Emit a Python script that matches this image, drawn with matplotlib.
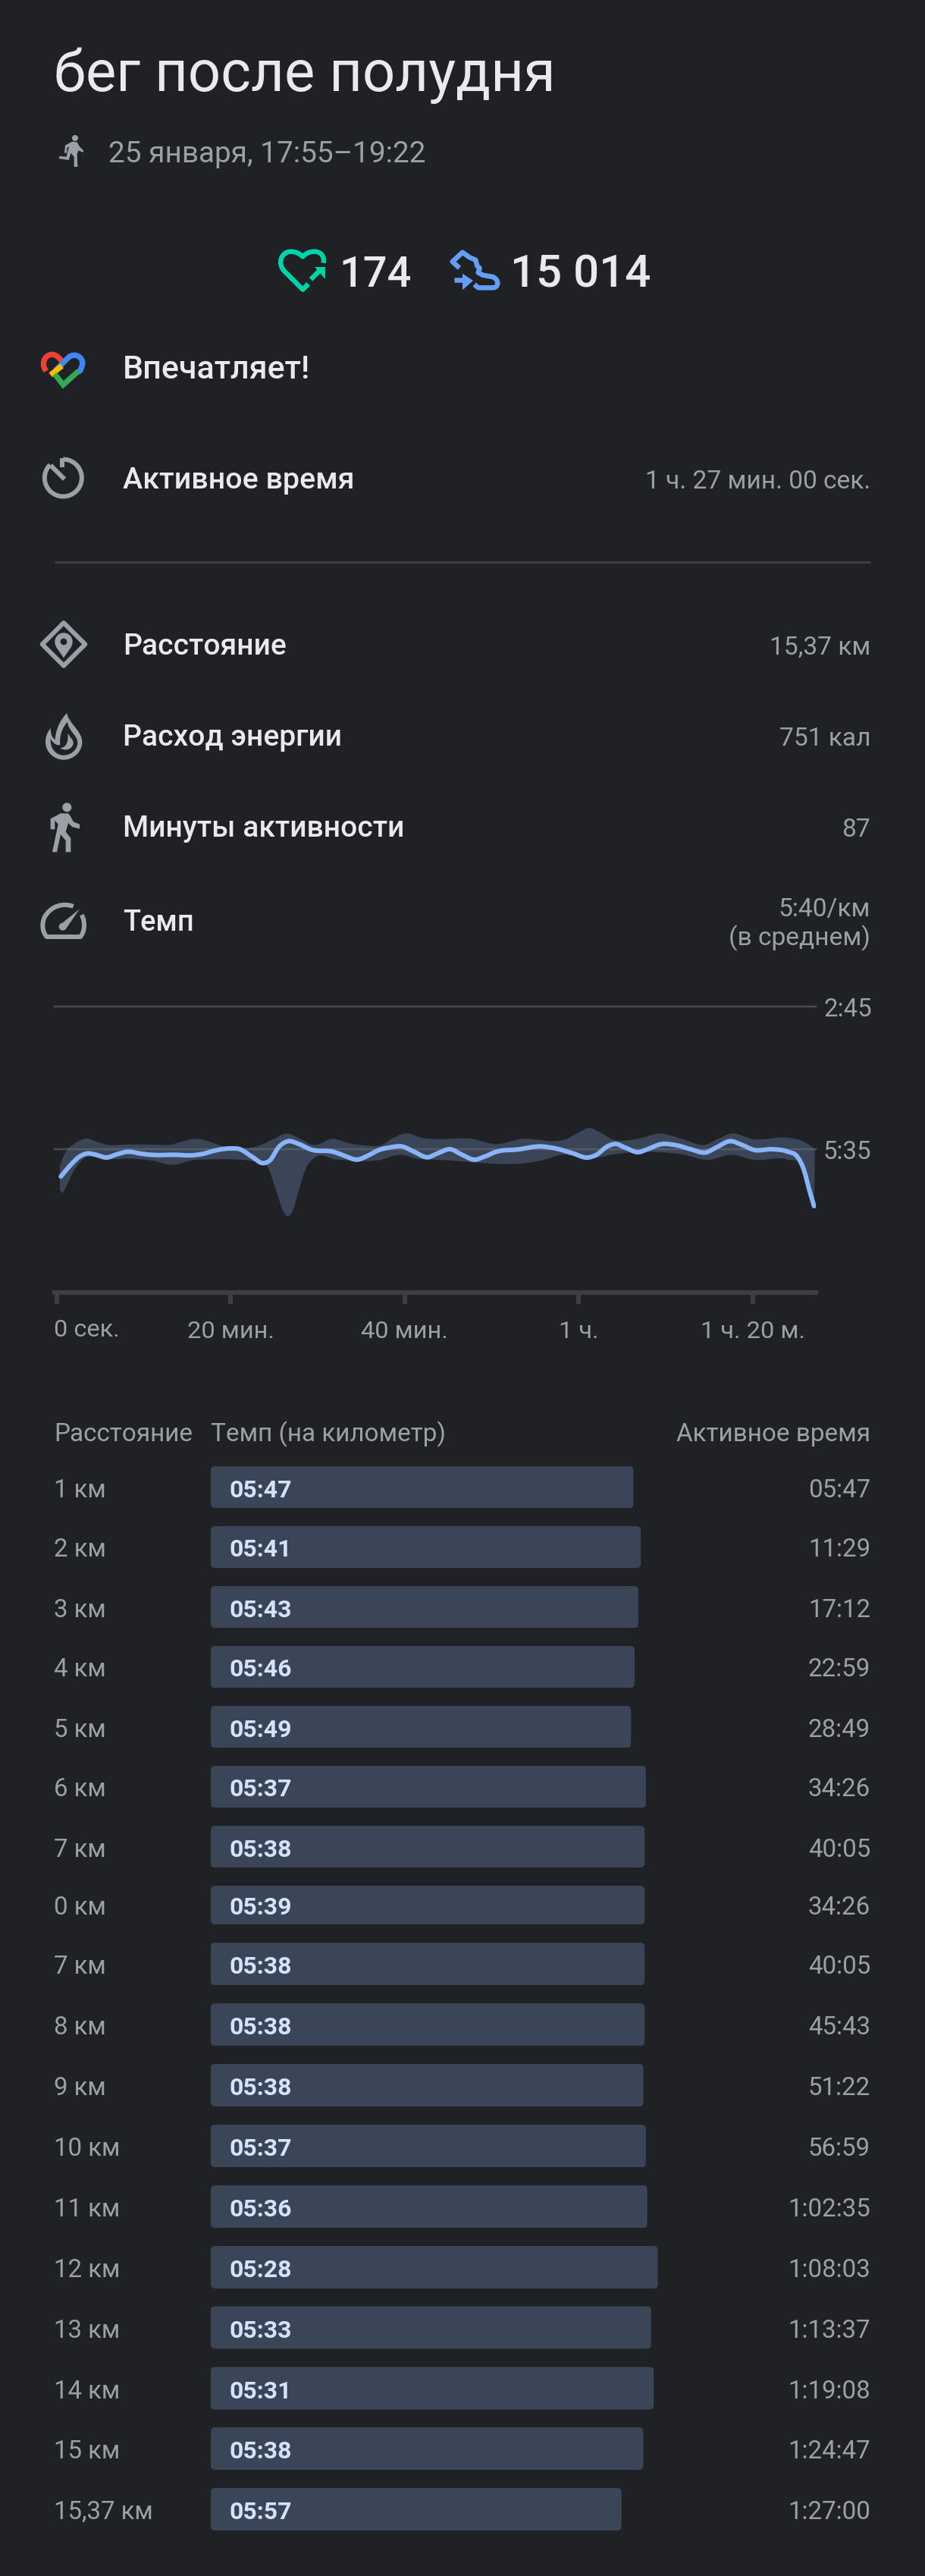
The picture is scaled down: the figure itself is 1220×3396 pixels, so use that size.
# Fit workout summary screen, dark theme
import numpy as np
import matplotlib
matplotlib.use('Agg')
import matplotlib.pyplot as plt
from matplotlib.path import Path
from matplotlib.patches import PathPatch, Circle, Polygon, FancyBboxPatch

plt.rcParams['font.family'] = ['Roboto', 'DejaVu Sans']

# pace chart, minutes / seconds per km
line_t = [0.46, 1.64, 2.57, 3.50, 4.59, 5.68, 6.92, 8.16, 9.71, 11.27, 13.44, 15.61, 16.86, 18.10, 19.96,
          21.05, 22.45, 23.69, 24.47, 25.55, 26.64, 27.73, 29.28, 31.76, 33.00, 34.56, 35.80, 37.04, 38.29,
          39.68, 41.08, 42.63, 43.87, 45.24, 46.48, 48.04, 49.28, 50.52, 53.01, 55.65, 57.35, 59.22, 61.08,
          62.01, 63.25, 64.19, 65.43, 66.83, 67.91, 69.47, 71.33, 72.88, 74.59, 75.99, 77.38, 78.78, 80.18,
          82.20, 84.06, 85.15, 85.93, 86.55, 87.07]
line_pace = [367.5, 353.1, 344.0, 340.1, 341.9, 344.9, 341.0, 338.0, 340.4, 341.9, 341.6, 342.2, 340.4, 336.8, 334.1,
             335.0, 344.0, 351.6, 348.6, 332.0, 325.4, 328.4, 335.6, 338.0, 342.5, 347.4, 342.5, 335.9, 332.9,
             331.7, 338.0, 344.6, 339.5, 335.0, 341.0, 347.4, 343.4, 338.0, 335.3, 331.7, 334.1, 339.5, 344.9,
             341.9, 332.0, 328.7, 333.5, 338.6, 335.0, 329.0, 330.5, 335.0, 338.9, 332.0, 325.4, 329.9, 335.9,
             335.0, 338.0, 344.0, 360.6, 384.7, 402.8]
upper_t = [0.34, 1.02, 1.95, 3.50, 4.59, 5.68, 8.16, 11.27, 13.13, 14.68, 16.24, 17.79, 19.34, 21.51, 23.07,
           24.62, 26.49, 28.04, 29.43, 31.76, 33.63, 35.49, 37.35, 38.60, 39.99, 42.32, 44.0, 47.73, 50.52,
           53.32, 58.60, 59.84, 61.24, 62.63, 63.88, 66.67, 69.31, 71.95, 74.59, 75.99, 77.54, 80.03, 84.37,
           85.93, 87.17]
upper_pace = [354.6, 338.0, 329.0, 322.3, 326.0, 329.6, 329.3, 329.6, 329.6, 325.1, 322.6, 326.9, 332.0, 334.1, 331.4,
              324.5, 316.3, 322.9, 329.9, 322.6, 328.1, 330.5, 329.9, 322.0, 316.3, 322.3, 322.9, 322.6, 329.0,
              322.9, 322.6, 316.0, 309.7, 316.0, 323.2, 322.9, 316.3, 322.9, 329.6, 322.9, 316.3, 322.9, 321.7,
              326.0, 335.0]
lower_t = [0.34, 0.55, 1.17, 1.95, 2.88, 5.68, 8.47, 10.96, 13.44, 15.61, 17.79, 20.89, 22.45, 24.31, 25.24,
           26.02, 26.49, 27.11, 27.88, 28.66, 29.59, 32.07, 34.56, 37.04, 39.53, 41.39, 44.0, 56.11, 57.98,
           61.39, 63.88, 71.95, 75.06, 77.38, 80.18, 84.06, 85.62, 86.55, 87.07]
lower_pace = [383.2, 386.8, 377.2, 360.6, 348.0, 347.4, 346.2, 348.6, 353.7, 348.0, 347.1, 347.4, 349.2, 357.6, 384.7,
              408.8, 414.9, 408.8, 381.7, 357.6, 345.5, 347.1, 349.2, 348.0, 341.6, 346.2, 347.7, 347.4, 341.6,
              346.2, 341.3, 341.3, 347.7, 341.6, 347.7, 347.4, 354.6, 378.7, 402.8]
x_ticks = [0, 20, 40, 60, 80]
x_tick_labels = ['', '20 мин.', '40 мин.', '1 ч.', '1 ч. 20 м.']
y_ticks = [165, 335]
y_tick_labels = ['2:45', '5:35']

# split table
dist_labels = ['1 км', '2 км', '3 км', '4 км', '5 км', '6 км', '7 км', '0 км', '7 км', '8 км', '9 км', '10 км',
               '11 км', '12 км', '13 км', '14 км', '15 км', '15,37 км']
pace_labels = ['05:47', '05:41', '05:43', '05:46', '05:49', '05:37', '05:38', '05:39', '05:38', '05:38', '05:38',
               '05:37', '05:36', '05:28', '05:33', '05:31', '05:38', '05:57']
pace_sec = [347, 341, 343, 346, 349, 337, 338, 338, 338, 338, 339, 337, 336, 328, 333, 331, 339, 357]
time_labels = ['05:47', '11:29', '17:12', '22:59', '28:49', '34:26', '40:05', '34:26', '40:05', '45:43', '51:22',
               '56:59', '1:02:35', '1:08:03', '1:13:37', '1:19:08', '1:24:47', '1:27:00']

# summary rows
summary_labels = ['Расстояние', 'Расход энергии', 'Минуты активности']
summary_values = ['15,37 км', '751 кал', '87']

# layout, pixels from the top of the screenshot
row_mid = [1960.5, 2039.5, 2118.5, 2197.5, 2276.5, 2355.5, 2434.5, 2511.5, 2589, 2669, 2749, 2829, 2909, 2989,
           3068.5, 3148.5, 3228, 3308]
row_h = [55, 55, 55, 55, 55, 55, 55, 51, 56, 56, 56, 56, 56, 56, 56, 56, 56, 56]
summary_base = [863, 983, 1103]

BG = '#1f2125'
WHITE = '#e8eaed'
GREY = '#9aa0a6'
ICON = '#9aa0a6'
RULE = '#3c4043'
BAND = '#3a4557'
LINE = '#8ab4f8'
W, H = 1220, 3396

fig = plt.figure(figsize=(W / 100, H / 100), dpi=100, facecolor=BG)
px = fig.add_axes([0, 0, 1, 1])
px.set_xlim(0, W)
px.set_ylim(H, 0)
px.axis('off')


def pt(p):
    return p * 0.72


def label(x, y, s, size, color=WHITE, ha='left', weight='normal'):
    px.text(x, y, s, fontsize=pt(size), color=color, ha=ha, va='baseline', fontweight=weight)


def zoomed(pts, ox, oy):
    return [(ox + x / 3, oy + y / 3) for x, y in pts]


def shape(start, segs, ox, oy, close=False):
    # segs: one point = straight line, three points = cubic curve
    verts = zoomed([start], ox, oy)
    codes = [Path.MOVETO]
    for s in segs:
        verts += zoomed(s, ox, oy)
        if len(s) == 1:
            codes.append(Path.LINETO)
        else:
            codes += [Path.CURVE4] * 3
    if close:
        verts.append(verts[0])
        codes.append(Path.CLOSEPOLY)
    return Path(verts, codes)


def stroke(path, color, w=6.0, cap='butt', join='miter'):
    px.add_patch(PathPatch(path, fill=False, edgecolor=color, lw=pt(w), capstyle=cap, joinstyle=join))


def fill(path, color):
    px.add_patch(PathPatch(path, facecolor=color, edgecolor='none'))


def poly(pts, color, ox, oy):
    px.add_patch(Polygon(zoomed(pts, ox, oy), closed=True, facecolor=color, edgecolor='none'))


def dot(x, y, r, color, ox, oy):
    px.add_patch(Circle((ox + x / 3, oy + y / 3), r / 3, facecolor=color, edgecolor='none'))


def arc(cx, cy, r, a0, a1):
    a = np.radians(np.linspace(a0, a1, 60))
    return [(cx + r * np.cos(v), cy - r * np.sin(v)) for v in a]


def smooth(t, p):
    # bezier segments through the read points, the chart draws a smoothed curve
    t = np.array(t, float)
    p = np.array(p, float)
    m = np.gradient(p, t)
    verts = [(t[0], p[0])]
    codes = [Path.MOVETO]
    for i in range(len(t) - 1):
        dt = (t[i + 1] - t[i]) / 3
        verts += [(t[i] + dt, p[i] + m[i] * dt), (t[i + 1] - dt, p[i + 1] - m[i + 1] * dt), (t[i + 1], p[i + 1])]
        codes += [Path.CURVE4] * 3
    return verts, codes


# header
label(71, 120, 'бег после полудня', 76)
label(143, 214, '25 января, 17:55–19:22', 38.8, GREY)
poly([(78, 65), (105, 50), (125, 52), (135, 70), (150, 85), (150, 93), (130, 85), (125, 100), (127, 150), (113, 150),
      (113, 110), (100, 95), (92, 123), (53, 117), (55, 108), (83, 110), (93, 70), (85, 75), (85, 95), (75, 95)],
     ICON, 60, 170)
dot(117, 36, 12, ICON, 60, 170)

# heart points / steps
TEAL = '#00d3a7'
STEP = '#669df6'
stroke(shape((140, 163), [[(118, 185)], [(45, 112)], [(15, 80), (35, 35), (70, 35)], [(90, 35), (105, 42), (118, 55)],
                          [(130, 42), (145, 35), (165, 35)], [(190, 35), (205, 55), (200, 80)]], 360, 320), TEAL, w=6.5, join='round')
stroke(shape((150, 145), [[(190, 105)]], 360, 320), TEAL, w=6.5)
poly([(165, 95), (208, 95), (208, 145)], TEAL, 360, 320)
label(447, 378, '174', 56, weight='medium')
stroke(shape((738, 100), [[(710, 75)], [(750, 38)], [(778, 58)], [(802, 68)], [(808, 92)], [(818, 100)], [(812, 118)],
                          [(830, 128)], [(870, 135)], [(895, 145), (895, 178), (870, 178)], [(812, 178)], [(797, 165)]], 360, 320),
       STEP, w=6.5, join='round')
stroke(shape((718, 148), [[(760, 148)]], 360, 320), STEP, w=6.5)
poly([(750, 122), (792, 150), (750, 187)], STEP, 360, 320)
label(673, 378, '15 014', 60, weight='medium')

# fit logo
stroke(shape((62, 118), [[(55, 105)], [(45, 75), (65, 52), (85, 52)], [(100, 52), (110, 60), (125, 78)]], 40, 450), '#ea4335', 7.3)
stroke(shape((100, 115), [[(150, 65)], [(175, 40), (215, 65), (205, 95)], [(198, 115)], [(188, 122)]], 40, 450), '#4285f4', 7.3)
stroke(shape((80, 133), [[(125, 97)]], 40, 450), '#fbbc04', 7.3)
stroke(shape((97, 130), [[(130, 172)], [(190, 118)]], 40, 450), '#34a853', 7.3)
label(162, 499, 'Впечатляет!', 43, weight='medium')

# timer
cx, cy = 40 + 130 / 3, 450 + 540 / 3
stroke(Path(arc(cx, cy, 24.5, 90, -225)), ICON)
stroke(shape((80, 490), [[(135, 545)]], 40, 450), ICON)
stroke(shape((125, 462), [[(125, 497)]], 40, 450), ICON)
label(162, 644, 'Активное время', 39.4, weight='medium')
label(1148, 644, '1 ч. 27 мин. 00 сек.', 33.5, GREY, ha='right')
px.plot([72, 1148], [741, 741], color=RULE, lw=pt(3), solid_capstyle='butt')

# summary rows
for name, value, base in zip(summary_labels, summary_values, summary_base):
    label(162, base, name, 39, weight='medium')
    label(1148, base, value, 33.5, GREY, ha='right')
label(162, 1227, 'Темп', 38, weight='medium')
label(1148, 1207.5, '5:40/км', 33.5, GREY, ha='right')
label(1148, 1246, '(в среднем)', 33.5, GREY, ha='right')

# diamond with pin
stroke(shape((132, 33), [[(217, 118)], [(132, 203)], [(47, 118)]], 40, 810, close=True), ICON, join='round')
fill(shape((132, 172), [[(115, 145), (97, 130), (97, 108)], [(97, 88), (112, 73), (132, 73)], [(152, 73), (167, 88), (167, 108)],
                        [(167, 130), (149, 145), (132, 172)]], 40, 810), ICON)
dot(132, 108, 13, BG, 40, 810)

# flame
fill(shape((145, 390), [[(150, 430), (205, 460), (205, 505)], [(205, 545), (170, 575), (132, 575)], [(95, 575), (60, 545), (60, 505)],
                        [(60, 480), (70, 462), (80, 450)], [(80, 470), (85, 488), (98, 495)], [(100, 460), (115, 420), (145, 390)]],
           40, 810, close=True), ICON)
fill(shape((147, 425), [[(150, 462), (187, 478), (187, 507)], [(187, 535), (160, 557), (132, 557)], [(105, 557), (78, 535), (80, 492)],
                        [(90, 510), (105, 520), (118, 516)], [(115, 480), (125, 450), (147, 425)]], 40, 810, close=True), BG)
fill(shape((148, 470), [[(160, 490), (172, 497), (170, 510)], [(168, 530), (140, 545), (118, 528)], [(138, 528), (152, 510), (148, 470)]],
           40, 810, close=True), ICON)

# walker
dot(145, 763, 18, ICON, 40, 810)
poly([(80, 808), (120, 787), (150, 787), (160, 800), (170, 820), (195, 830), (195, 848), (165, 840), (150, 825), (140, 860),
      (160, 885), (160, 940), (140, 940), (140, 895), (120, 870), (105, 940), (87, 940), (110, 830), (97, 815), (97, 850), (80, 850)],
     ICON, 40, 810)

# gauge
stroke(shape((170, 1155), [[(135, 1140), (80, 1150), (55, 1200)], [(45, 1225), (47, 1255), (65, 1275)], [(198, 1275)],
                           [(216, 1255), (218, 1215), (203, 1188)]], 40, 810), ICON, join='round')
poly([(195, 1165), (140, 1245), (115, 1230)], ICON, 40, 810)
dot(128, 1235, 15, ICON, 40, 810)

# pace chart
chart_l, chart_r, chart_t, chart_b = 72, 1076, 1327, 1703.5
ax = fig.add_axes([chart_l / W, 1 - chart_b / H, (chart_r - chart_l) / W, (chart_b - chart_t) / H])
ax.patch.set_alpha(0)
ax.set_xlim(-0.26, 87.27)
ax.set_ylim(505.4, 165)
up_v, up_c = smooth(upper_t, upper_pace)
lo_v, lo_c = smooth(lower_t, lower_pace)
# walk the lower edge backwards to close the band
band_v = up_v + lo_v[::-1] + [up_v[0]]
band_c = up_c + [Path.LINETO] + lo_c[1:] + [Path.CLOSEPOLY]
ax.add_patch(PathPatch(Path(band_v, band_c), facecolor=BAND, edgecolor='none', zorder=1))
ax.grid(axis='y', color='#6a6e73', alpha=0.55, lw=pt(2.5), zorder=2, clip_on=False)
line_v, line_c = smooth(line_t, line_pace)
ax.add_patch(PathPatch(Path(line_v, line_c), fill=False, edgecolor=LINE, lw=pt(6), capstyle='round', joinstyle='round', zorder=3))
for s in ['top', 'left', 'right']:
    ax.spines[s].set_visible(False)
ax.spines['bottom'].set_color(RULE)
ax.spines['bottom'].set_linewidth(pt(6))
ax.yaxis.tick_right()
ax.set_xticks(x_ticks)
ax.set_xticklabels(x_tick_labels, fontsize=pt(32.5), color=GREY)
ax.set_yticks(y_ticks)
ax.set_yticklabels(y_tick_labels, fontsize=pt(33), color=GREY)
ax.tick_params(axis='x', length=pt(15), width=pt(6), color=RULE, pad=pt(22))
ax.tick_params(axis='y', length=0, pad=pt(10))
label(71, 1762, '0 сек.', 32.5, GREY)

# split table
label(71, 1900, 'Расстояние', 33.3, GREY)
label(278, 1900, 'Темп (на километр)', 33.3, GREY)
label(1148, 1900, 'Активное время', 33.3, GREY, ha='right')

PX_PER_KMH = 193400 / 3600
bars = fig.add_axes([278 / W, 0, (W - 278) / W, 1])
bars.patch.set_alpha(0)
bars.set_xlim(0, (W - 278) / PX_PER_KMH)
bars.set_ylim(H, 0)
bars.axis('off')
for i, sec in enumerate(pace_sec):
    speed = 3600 / sec
    y = row_mid[i]
    bars.add_patch(FancyBboxPatch((0, y - row_h[i] / 2), speed, row_h[i], boxstyle='round,pad=0,rounding_size=0.1',
                                  mutation_aspect=PX_PER_KMH, facecolor=BAND, edgecolor='none'))
    label(71, y + 13, dist_labels[i], 33, GREY)
    label(1148, y + 13, time_labels[i], 33, GREY, ha='right')
    bars.text(24 / PX_PER_KMH, y + 13, pace_labels[i], fontsize=pt(32), color='#d2e3fc', fontweight='bold', va='baseline')

fig.savefig('out.png', dpi=100, facecolor=BG)
